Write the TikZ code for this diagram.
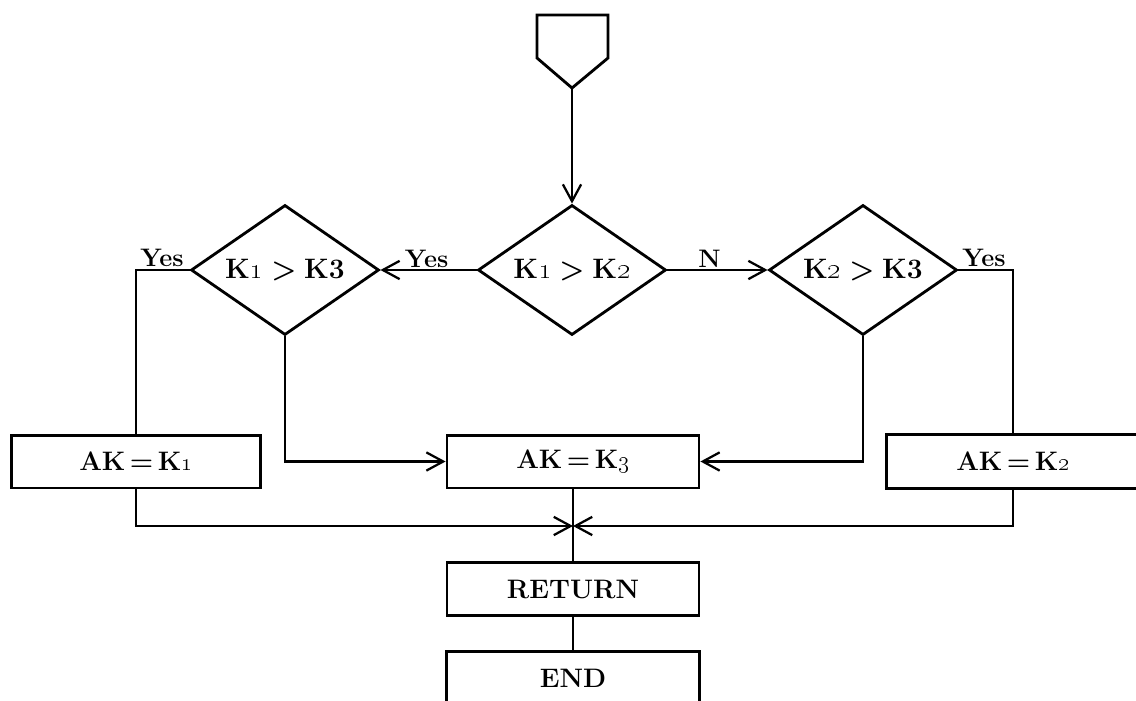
\documentclass[tikz,border=0pt]{standalone}
\usetikzlibrary{shapes.geometric,arrows.meta}
\begin{document}
\begin{tikzpicture}[x=0.025cm,y=-0.025cm,
  every node/.style={font=\fontsize{19}{22}\selectfont\bfseries},
  line/.style={line width=2pt,line join=miter},
  arr/.style={line/.try,-{Straight Barb[length=12pt,width=13pt,line width=1.6pt]}},
  dec/.style={diamond,draw,line width=2pt,inner sep=0pt,aspect=1.45,
    minimum width=4.7cm,minimum height=3.25cm,font=\fontsize{20}{23}\selectfont\bfseries},
  boxnode/.style={rectangle,draw,line width=2pt,minimum width=6.3cm,minimum height=1.32cm,inner sep=0pt},
  openbox/.style={rectangle,minimum width=6.3cm,minimum height=1.32cm,inner sep=0pt},
  lab/.style={font=\fontsize{18}{21}\selectfont\bfseries,inner sep=1pt}]
\useasboundingbox (0,0) rectangle (1136,701);

% off-page connector
\coordinate (tl) at (537,15);
\coordinate (tr) at (608,15);
\coordinate (tip) at (572,88);
\draw[line] (tl) -- (tr) -- (608,58) -- (tip) -- (537,58) -- cycle;

% decisions
\node[dec] (dc) at (572,270) {K\oldstylenums{1}\;>\;K\oldstylenums{2}};
\node[dec] (dl) at (285,270) {K\oldstylenums{1}\;>\;K3};
\node[dec] (dr) at (863,270) {K\oldstylenums{2}\;>\;K3};

% boxes
\node[boxnode,minimum width=6.225cm] (k1) at (136,461.5) {AK\,=\,K\oldstylenums{1}};
\node[boxnode] (k3) at (573,461.5) {AK\,=\,K\oldstylenums{3}};
\node[openbox] (k2) at (1013,461.5) {AK\,=\,K\oldstylenums{2}};
\draw[line] (k2.north east) -- (k2.north west) -- (k2.south west) -- (k2.south east);
\node[boxnode] (ret) at (573,589) {RETURN};
\node[openbox] (end) at (573,678) {END};
\draw[line] (end.south west) -- (end.north west) -- (end.north east) -- (end.south east);

% connectors
\draw[arr] (tip) -- (dc.north);
\draw[arr] (dc.west) -- node[lab,above,pos=0.52] {Yes} (dl.east);
\draw[arr] (dc.east) -- node[lab,above,pos=0.42] {N} (dr.west);
\draw[line] (dl.west) -| (k1.north);
\draw[line] (dr.east) -| (k2.north);
\node[lab,anchor=south] (yl) at (162,268) {Yes};
\node[lab,anchor=south] (yr) at (984,268) {Yes};
\draw[arr] (dl.south) |- (k3.west);
\draw[arr] (dr.south) |- (k3.east);
\coordinate (j) at (573,526);
\draw[arr] (k1.south) |- (j);
\draw[arr] (k2.south) |- (j);
\draw[line] (k3.south) -- (ret.north);
\draw[line] (ret.south) -- (end.north);
\end{tikzpicture}
\end{document}
